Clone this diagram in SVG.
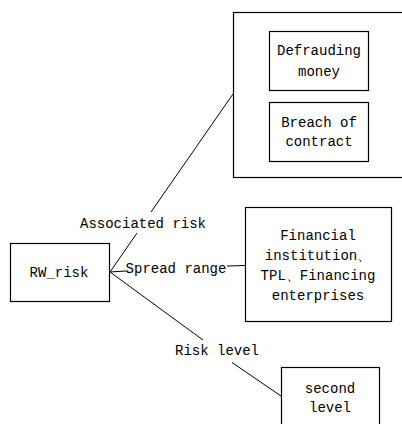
<svg xmlns="http://www.w3.org/2000/svg" width="402" height="424" viewBox="0 0 402 424">
<style>
.box{fill:#fff;stroke:#000;stroke-width:1.2}
.ln{stroke:#000;stroke-width:1;fill:none}
text{font-family:"Liberation Mono","DejaVu Sans Mono",monospace;font-size:14px;fill:#000;text-anchor:middle}
</style>
<rect width="402" height="424" fill="#fff"/>
<g id="connectors">
<line class="ln" x1="233" y1="94" x2="151" y2="212"/>
<line class="ln" x1="137" y1="233" x2="110" y2="272"/>
<line class="ln" x1="110" y1="272" x2="126" y2="271"/>
<line class="ln" x1="227" y1="266" x2="245" y2="265.5"/>
<line class="ln" x1="110" y1="272" x2="203" y2="340"/>
<line class="ln" x1="232" y1="362.5" x2="281" y2="396"/>
<text x="143" y="228">Associated risk</text>
<text x="176" y="273">Spread range</text>
<text x="217" y="355">Risk level</text>
</g>
<g id="associated-group">
<rect class="box" x="233.5" y="12.5" width="200" height="165"/>
</g>
<g id="defrauding">
<rect class="box" x="269.5" y="31.5" width="99" height="59"/>
<text x="319" y="55">Defrauding</text>
<text x="319" y="76">money</text>
</g>
<g id="breach">
<rect class="box" x="269.5" y="102.5" width="99" height="59"/>
<text x="319" y="127">Breach of</text>
<text x="319" y="146">contract</text>
</g>
<g id="rw-risk">
<rect class="box" x="10.5" y="243.5" width="99" height="58"/>
<text x="59" y="277">RW_risk</text>
</g>
<g id="financial">
<rect class="box" x="245.5" y="207.5" width="146" height="114"/>
<text x="318" y="240">Financial</text>
<text x="318" y="260">institution、</text>
<text x="318" y="280">TPL、Financing</text>
<text x="318" y="300">enterprises</text>
</g>
<g id="second-level">
<rect class="box" x="281.5" y="367.5" width="98" height="70"/>
<text x="330" y="393">second</text>
<text x="330" y="412">level</text>
</g>
</svg>
